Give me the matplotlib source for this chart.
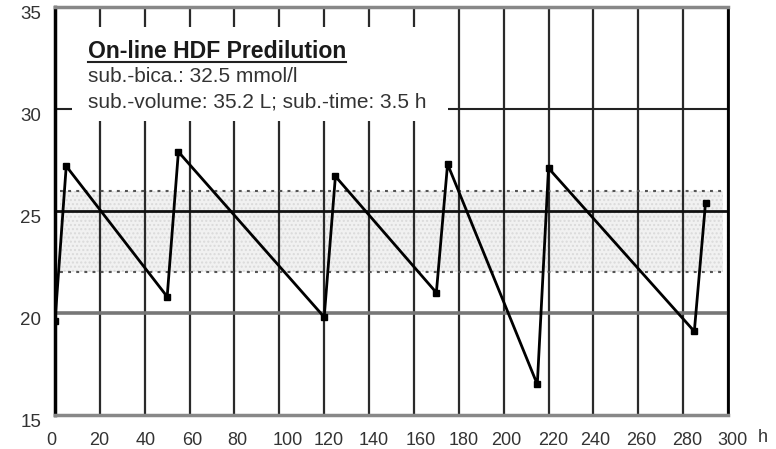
import matplotlib
matplotlib.use('Agg')
import matplotlib.pyplot as plt
from matplotlib.patches import Rectangle
from matplotlib.transforms import ScaledTranslation

plt.rcParams['font.family'] = ['Liberation Sans', 'DejaVu Sans']

# bicarbonate over time, on-line HDF predilution
hours = [0, 5, 50, 55, 120, 125, 170, 175, 215, 220, 285, 290]
bica = [19.6, 27.2, 20.8, 27.9, 19.8, 26.7, 21.0, 27.3, 16.5, 27.1, 19.1, 25.4]

target_low = 22
target_high = 26

x_ticks = list(range(0, 301, 20))
y_ticks = [15, 20, 25, 30, 35]
# hand-set nudges (px) of the hour labels
x_nudge = [-4, -1, 1, 3, 3, 8, 4, 5, 7, 5, 3, 5, 2, 3, 4, 5]

title = 'On-line HDF Predilution'
info_lines = ['sub.-bica.: 32.5 mmol/l',
              'sub.-volume: 35.2 L; sub.-time: 3.5 h']

fig = plt.figure(figsize=(7.76, 4.49), dpi=100)
ax = fig.add_axes([0.0709, 0.0757, 0.8672, 0.9087])
ax.set_xlim(0, 300)
ax.set_ylim(15, 35)
ax.set_axisbelow(True)

# target range band
ax.fill_between([2, 298], target_low, target_high, facecolor='#f1f1f1',
                edgecolor='#dadada', hatch='....', linewidth=0, zorder=0.3)
for lvl in (target_low, target_high):
    ax.plot([2, 298], [lvl, lvl], color='#555555', lw=1.5,
            dashes=(1.4, 2.5), zorder=1.5)

ax.grid(axis='x', color='#2a2a2a', lw=1.6)
ax.axhline(20, color='#777777', lw=2.6, zorder=1.6)
ax.axhline(25, color='#111111', lw=2.0, zorder=1.6)
ax.axhline(30, color='#222222', lw=1.5, zorder=1.6)

# white panel behind the annotation text
ax.add_patch(Rectangle((7.6, 29.4), 175 - 7.6, 34.0 - 29.4,
                       facecolor='white', edgecolor='none', zorder=2))

ax.plot(hours, bica, color='black', lw=2, marker='s', markersize=4.5,
        zorder=3)

t = ax.text(14.7, 32.5, title, fontsize=16.6, fontweight='bold',
            color='#1a1a1a', va='baseline', zorder=4)
ax.text(14.7, 31.3, info_lines[0], fontsize=15, color='#333333',
        va='baseline', zorder=4)
ax.text(14.7, 30.05, info_lines[1], fontsize=15, color='#333333',
        va='baseline', zorder=4)

ax.set_xticks(x_ticks)
ax.set_yticks(y_ticks)
ax.tick_params(axis='x', length=0, pad=12, labelsize=13, labelcolor='#333333')
ax.tick_params(axis='y', length=0, pad=10, labelsize=13.5, labelcolor='#333333')

for lab, dx in zip(ax.get_xticklabels(), x_nudge):
    lab.set_transform(lab.get_transform() +
                      ScaledTranslation(dx / 100, 0, fig.dpi_scale_trans))
for lab in ax.get_yticklabels():
    lab.set_transform(lab.get_transform() +
                      ScaledTranslation(0, -0.05, fig.dpi_scale_trans))

ax.annotate('h', xy=(300, 15), xytext=(25, -16.5), textcoords='offset points',
            ha='center', va='center', fontsize=13, color='#333333',
            annotation_clip=False)

ax.spines['left'].set_color('black')
ax.spines['left'].set_linewidth(2.5)
ax.spines['right'].set_color('black')
ax.spines['right'].set_linewidth(2.0)
ax.spines['top'].set_color('#888888')
ax.spines['top'].set_linewidth(2.5)
ax.spines['bottom'].set_color('#888888')
ax.spines['bottom'].set_linewidth(2.5)

# underline the heading
fig.canvas.draw()
bb = t.get_window_extent().transformed(ax.transData.inverted())
ax.plot([bb.x0, bb.x1], [32.3, 32.3], color='#222222', lw=1.5, zorder=4)

fig.savefig('out.png', dpi=100)
